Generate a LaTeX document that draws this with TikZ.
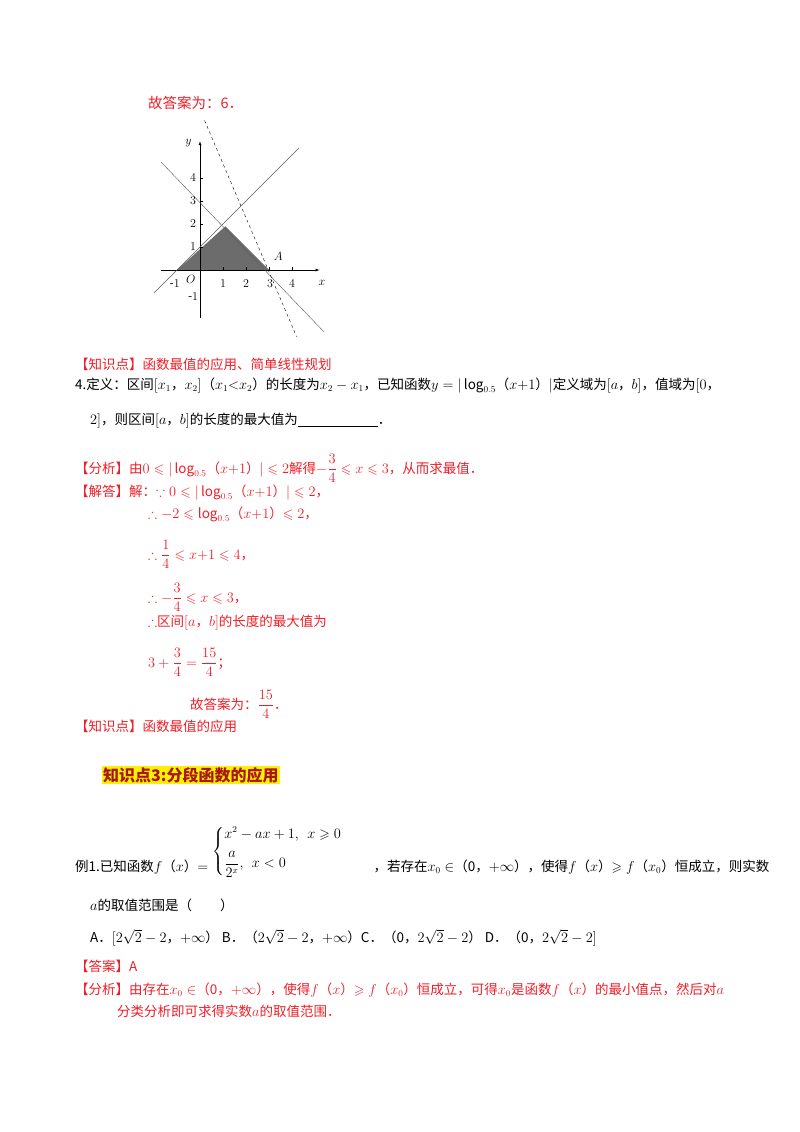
\documentclass[tikz,border=0pt]{standalone}
\usepackage{fontspec}
\usepackage{amsmath,amssymb}
\setmainfont{Noto Sans CJK SC}
\definecolor{rd}{RGB}{240,30,40}
\definecolor{hl}{RGB}{255,240,0}
\begin{document}
\begin{tikzpicture}[x=1pt,y=-1pt,
  t/.style={anchor=base west,inner sep=0pt,font=\fontsize{13.5}{15}\selectfont},
  r/.style={t,text=rd},
  ax/.style={font=\fontsize{12}{12}\selectfont,inner sep=1pt},
  tk/.style={font=\fontsize{12}{12}\selectfont,inner sep=1pt}]
\useasboundingbox[fill=white] (0,0) rectangle (800,1132);
\node[r,font=\fontsize{14.5}{15}\selectfont] (l1) at (148,108) {故答案为：6．};
% graph
\begin{scope}[shift={(200,270)},x=23pt,y=23pt]
\fill[gray!85!black] (-1,0) -- (1.1,1.9) -- (3,0) -- cycle;
\draw[-latex] (-1.7,0) -- (5.2,0) coordinate (xe);
\draw[-latex] (0,-2.1) -- (0,5.6) coordinate (ye);
\draw[gray!70!black] (-2.0,-1.0) -- (4.3,5.3);
\draw[gray!70!black] (-1.7,4.7) -- (5.4,-2.7);
\draw[dashed] (0.2,6.5) -- (4.2,-2.9);
\foreach \i in {1,2,3,4}{\draw (\i,0)--(\i,0.15); \draw (0,\i)--(0.15,\i);}
\node[tk] at (1,-0.6) {$1$};\node[tk] at (2,-0.6) {$2$};\node[tk] at (3.05,-0.6) {$3$};\node[tk] at (4,-0.6) {$4$};
\node[tk] at (-1.1,-0.6) {$\text{-}1$};
\node[ax] at (-0.4,-0.42) {$O$};
\node[tk] at (-0.3,1) {$1$};\node[tk] at (-0.3,2) {$2$};\node[tk] at (-0.3,3) {$3$};\node[tk] at (-0.3,4) {$4$};
\node[tk] at (-0.3,-1.15) {$\text{-}1$};
\node[ax] at (5.3,-0.55) {$x$};
\node[ax] at (-0.5,5.5) {$y$};
\node[ax] at (3.4,0.6) {$A$};
\end{scope}
\node[r] (k1) at (75,369) {【知识点】函数最值的应用、简单线性规划};
\node[t] (q1) at (75,389) {4.定义：区间$[x_1$，$x_2]$（$x_1{<}x_2$）的长度为$x_2-x_1$，已知函数$y=|\log_{0.5}$（$x{+}1$）$|$定义域为$[a$，$b]$，值域为$[0$，};
\node[t] (q2) at (90,424) {$2]$，则区间$[a$，$b]$的长度的最大值为\underline{\hspace{80pt}}．};
\node[r] (a1) at (75,473) {【分析】由$0\leqslant|\log_{0.5}$（$x{+}1$）$|\leqslant2$解得$-\dfrac{3}{4}\leqslant x\leqslant3$，从而求最值．};
\node[r] (a2) at (75,496) {【解答】解：$\because0\leqslant|\log_{0.5}$（$x{+}1$）$|\leqslant2$，};
\node[r] (a3) at (148,518) {$\therefore-2\leqslant\log_{0.5}$（$x{+}1$）$\leqslant2$，};
\node[r] (a4) at (148,559) {$\therefore\dfrac{1}{4}\leqslant x{+}1\leqslant4$，};
\node[r] (a5) at (148,602) {$\therefore-\dfrac{3}{4}\leqslant x\leqslant3$，};
\node[r] (a6) at (148,626) {$\therefore$区间$[a$，$b]$的长度的最大值为};
\node[r] (a7) at (148,667) {$3+\dfrac{3}{4}=\dfrac{15}{4}$；};
\node[r] (a8) at (148,709) {\hspace{42pt}故答案为：$\dfrac{15}{4}$．};
\node[r] (k2) at (75,731) {【知识点】函数最值的应用};
\node[t,font=\fontsize{16}{17}\selectfont\bfseries,fill=hl,inner sep=1pt,text=rd!70!black] (h) at (102,781) {知识点3:分段函数的应用};
\node[t] (e1) at (75,871) {例1.已知函数$f$（$x$）$=\raisebox{16pt}{$\begin{cases}x^2-ax+1,\ \ x\geqslant0\\[8pt] \dfrac{a}{2^x},\ \ x<0\end{cases}$}$\hspace{18pt}，若存在$x_0\in$（0，$+\infty$），使得$f$（$x$）$\geqslant f$（$x_0$）恒成立，则实数};
\node[t] (e2) at (90,910) {$a$的取值范围是（\hspace{28pt}）};
\node[t] (e3) at (90,942) {A．$[2\sqrt2-2$，$+\infty$）\ B．（$2\sqrt2-2$，$+\infty$）C．（0，$2\sqrt2-2$）\ D．（0，$2\sqrt2-2]$};
\node[r] (e4) at (75,971) {【答案】A};
\node[r] (e5) at (75,994) {【分析】由存在$x_0\in$（0，$+\infty$），使得$f$（$x$）$\geqslant f$（$x_0$）恒成立，可得$x_0$是函数$f$（$x$）的最小值点，然后对$a$};
\node[r] (e6) at (117,1016) {分类分析即可求得实数$a$的取值范围．};
\end{tikzpicture}
\end{document}
